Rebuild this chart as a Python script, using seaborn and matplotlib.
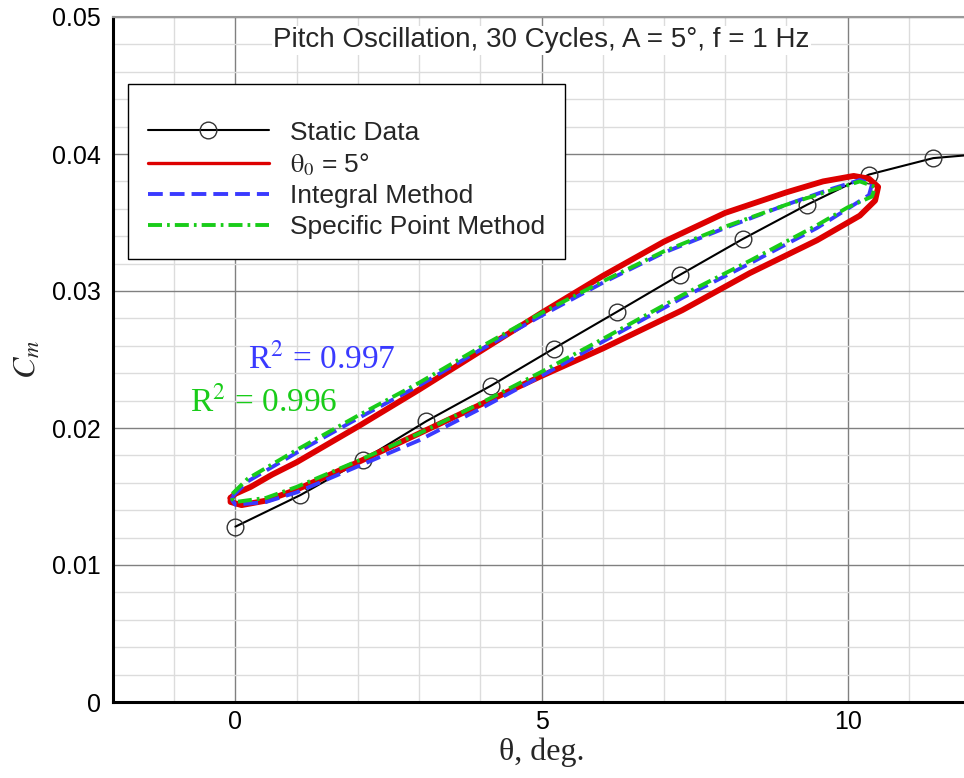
import numpy as np
import pandas as pd
import matplotlib
matplotlib.use("Agg")
import matplotlib.pyplot as plt
import seaborn as sns
from matplotlib.ticker import MultipleLocator

# ---------------- data ----------------
static_theta = [0.0, 1.06, 2.09, 3.12, 4.18, 5.2, 6.24, 7.27, 8.29, 9.34, 10.35, 11.4, 12.45]
static_cm = [0.0128, 0.0151, 0.0177, 0.0205, 0.0231, 0.0258, 0.0285, 0.0312, 0.0338, 0.0363, 0.0385, 0.0397, 0.0401]
static_marker_count = 12

red_theta = [-0.08, 0.0, 0.25, 0.6, 1.0, 2.0, 3.0, 4.0, 5.0, 6.0, 7.0, 8.0, 9.0, 9.6, 10.1, 10.35, 10.5,
             10.45, 10.2, 9.5, 8.4, 7.3, 6.0, 5.0, 4.0, 3.0, 2.0, 1.0, 0.5, 0.1, -0.08, -0.08]
red_cm = [0.0149, 0.0152, 0.0157, 0.0166, 0.0175, 0.0201, 0.0228, 0.0256, 0.0284, 0.0311, 0.0336, 0.0357, 0.0372, 0.0380, 0.0384, 0.0382, 0.0376,
          0.0366, 0.0355, 0.0337, 0.0313, 0.0286, 0.0258, 0.0238, 0.0217, 0.0196, 0.0175, 0.0155, 0.0147, 0.01437, 0.0146, 0.0149]

integral_theta = [-0.05, 0.2, 1.0, 2.0, 3.0, 4.0, 5.0, 6.0, 7.0, 8.0, 9.0, 9.7, 10.2, 10.4,
                  10.35, 10.0, 9.5, 8.4, 7.3, 6.0, 5.0, 4.0, 3.0, 2.0, 1.0, 0.5, 0.0, -0.05, -0.05]
integral_cm = [0.0150, 0.0161, 0.0182, 0.0207, 0.0231, 0.0257, 0.0282, 0.0306, 0.0328, 0.0346, 0.0363, 0.0374, 0.0381, 0.0378,
               0.0370, 0.0360, 0.0346, 0.0320, 0.0295, 0.0263, 0.0238, 0.0214, 0.0191, 0.0172, 0.0153, 0.0146, 0.0144, 0.0147, 0.0150]

specific_theta = [-0.05, 0.2, 1.0, 2.0, 3.0, 4.0, 5.0, 6.0, 7.0, 8.0, 9.0, 9.7, 10.2, 10.45,
                  10.4, 10.0, 9.5, 8.4, 7.3, 6.0, 5.0, 4.0, 3.0, 2.0, 1.0, 0.5, 0.0, -0.05, -0.05]
specific_cm = [0.0152, 0.0163, 0.0184, 0.0209, 0.0233, 0.0259, 0.0284, 0.0307, 0.0329, 0.0347, 0.0363, 0.0373, 0.0380, 0.0376,
               0.0369, 0.0361, 0.0348, 0.0322, 0.0297, 0.0265, 0.0241, 0.0218, 0.0196, 0.0176, 0.0157, 0.0149, 0.0146, 0.0148, 0.0152]

labels = ["Static Data", r"$\mathrm{\theta}_0$ = 5°", "Integral Method", "Specific Point Method"]
x_tick_labels = ["0", "5", "10"]
y_tick_labels = ["0", "0.01", "0.02", "0.03", "0.04", "0.05"]
title_text = "Pitch Oscillation, 30 Cycles, A = 5°, f = 1 Hz"
r2_integral = "R$^2$ = 0.997"
r2_specific = "R$^2$ = 0.996"

# ---------------- style ----------------
sns.set_style("white")
plt.rcParams["font.family"] = ["Liberation Sans", "DejaVu Sans"]
plt.rcParams["mathtext.fontset"] = "stix"

RED = "#dd0000"
BLUE = "#3a3aff"
GREEN = "#19cc19"

fig = plt.figure(figsize=(9.64, 7.78), dpi=100)
ax = fig.add_axes([113 / 964, 76 / 778, 857 / 964, 685 / 778])

df_s = pd.DataFrame({"theta": static_theta, "cm": static_cm})
df_r = pd.DataFrame({"theta": red_theta, "cm": red_cm})
df_i = pd.DataFrame({"theta": integral_theta, "cm": integral_cm})
df_p = pd.DataFrame({"theta": specific_theta, "cm": specific_cm})

sns.lineplot(data=df_s, x="theta", y="cm", ax=ax, color="black", lw=1.5,
             marker="o", markersize=12, markerfacecolor="none", markeredgecolor="#333333",
             markeredgewidth=1.0, markevery=list(range(static_marker_count)),
             estimator=None, sort=False, label=labels[0], zorder=3)
sns.lineplot(data=df_r, x="theta", y="cm", ax=ax, color=RED, lw=4.2,
             estimator=None, sort=False, label=labels[1], zorder=4)
sns.lineplot(data=df_i, x="theta", y="cm", ax=ax, color=BLUE, lw=2.8,
             linestyle=(0, (3.8, 1.8)), estimator=None, sort=False, label=labels[2], zorder=5)
sns.lineplot(data=df_p, x="theta", y="cm", ax=ax, color=GREEN, lw=2.8,
             linestyle=(0, (3.6, 1.3, 0.7, 1.3)), estimator=None, sort=False, label=labels[3], zorder=6)

ax.set_xlim(-2, 12)
ax.set_ylim(0, 0.05)
ax.xaxis.set_minor_locator(MultipleLocator(1))
ax.yaxis.set_minor_locator(MultipleLocator(0.002))
ax.set_xticks([0, 5, 10])
ax.set_xticklabels(x_tick_labels)
ax.set_yticks([0, 0.01, 0.02, 0.03, 0.04, 0.05])
ax.set_yticklabels(y_tick_labels)

ax.grid(which="minor", color="#dcdcdc", lw=1.0, zorder=0)
ax.grid(which="major", color="#808080", lw=1.0, zorder=0)
ax.set_axisbelow(True)
ax.tick_params(which="both", length=0, labelsize=18, colors="black")
ax.tick_params(axis="y", pad=9)
ax.tick_params(axis="x", pad=6)

for s in ["left", "bottom"]:
    ax.spines[s].set_color("black")
    ax.spines[s].set_linewidth(2.2)
ax.spines["top"].set_color("#999999")
ax.spines["top"].set_linewidth(1.5)
ax.spines["right"].set_visible(False)

ax.set_xlabel("θ, deg.", fontsize=23, family="Liberation Serif", va="center")
ax.set_ylabel(r"$C_m$", fontsize=23, va="center")
ax.xaxis.set_label_coords(0.5006, -0.073)
ax.yaxis.set_label_coords(-0.1, 0.5)

ax.text(5, 0.0483, title_text, ha="center", va="center", fontsize=20,
        bbox=dict(facecolor="white", edgecolor="none", pad=1), zorder=7)

ax.text(0.21, 0.0250, r2_integral, color=BLUE, fontsize=24, family="Liberation Serif",
        ha="left", va="center", zorder=7)
ax.text(-0.74, 0.0219, r2_specific, color=GREEN, fontsize=24, family="Liberation Serif",
        ha="left", va="center", zorder=7)

leg = ax.legend(loc="upper left", bbox_to_anchor=(0.0175, 0.902), borderaxespad=0,
                fontsize=19, frameon=True, fancybox=False, edgecolor="black",
                handlelength=4.6, handletextpad=0.8, labelspacing=0.25, borderpad=0.75,
                title=" ", title_fontsize=7)
leg.get_frame().set_linewidth(1.0)
leg.get_frame().set_alpha(1)
leg.set_zorder(10)
hs = leg.legend_handles
hs[1].set_linewidth(2.4)

fig.savefig("out.png", dpi=100)
